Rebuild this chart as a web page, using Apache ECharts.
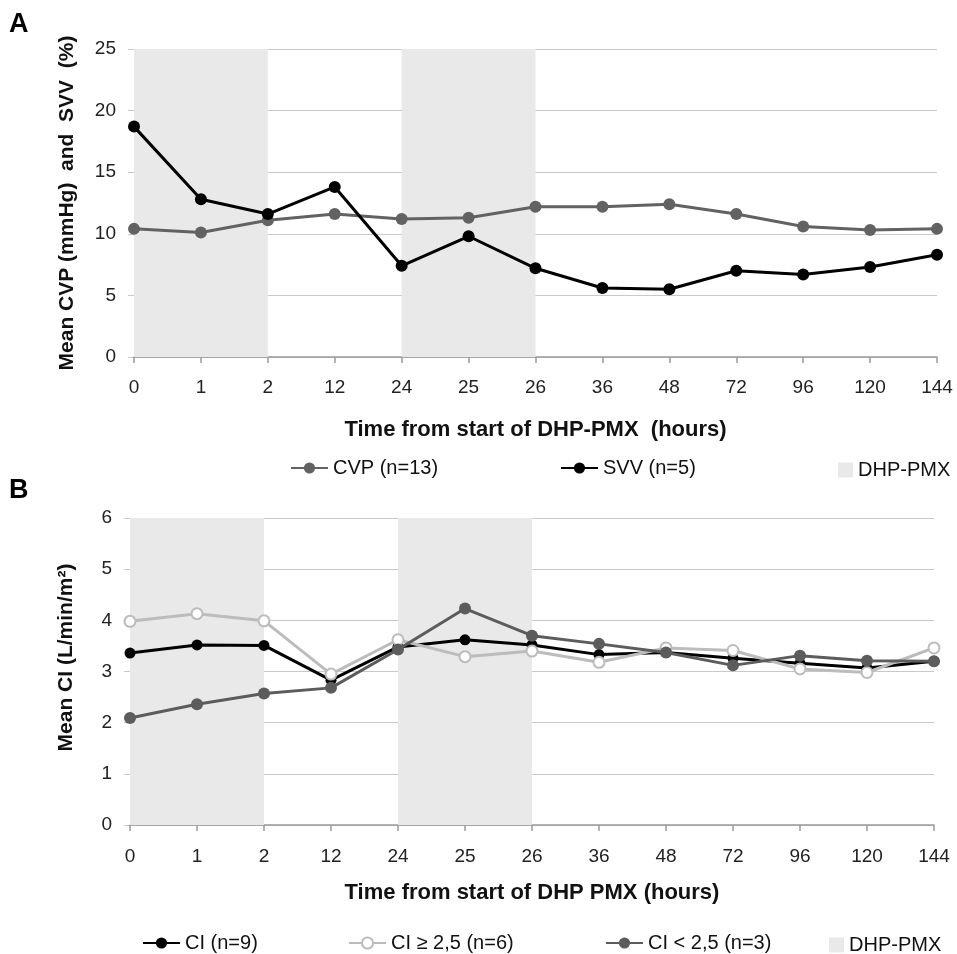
<!DOCTYPE html>
<html>
<head>
<meta charset="utf-8">
<script src="https://cdn.jsdelivr.net/npm/echarts@6/dist/echarts.min.js"></script>
<style>
html,body{margin:0;padding:0;background:#fff;}
#chart{width:957px;height:954px;}
</style>
</head>
<body>
<div id="chart"></div>
<script>
// ---- data ----
const categories = ['0','1','2','12','24','25','26','36','48','72','96','120','144'];
const cvp  = [10.4, 10.1, 11.1, 11.6, 11.2, 11.3, 12.2, 12.2, 12.4, 11.6, 10.6, 10.3, 10.4];
const svv  = [18.7, 12.8, 11.6, 13.8, 7.4, 9.8, 7.2, 5.6, 5.5, 7.0, 6.7, 7.3, 8.3];
const ci     = [3.36, 3.52, 3.51, 2.83, 3.48, 3.62, 3.52, 3.33, 3.37, 3.26, 3.16, 3.07, 3.2];
const ciHigh = [3.98, 4.13, 3.99, 2.95, 3.62, 3.29, 3.40, 3.18, 3.46, 3.41, 3.05, 2.98, 3.46];
const ciLow  = [2.09, 2.36, 2.57, 2.68, 3.43, 4.23, 3.70, 3.54, 3.37, 3.12, 3.31, 3.21, 3.2];
const dhpPeriods = [['0','2'], ['24','26']];
const topTitleX = 'Time from start of DHP-PMX  (hours)';
const botTitleX = 'Time from start of DHP PMX (hours)';
const topTitleY = 'Mean CVP (mmHg)  and  SVV  (%)';
const botTitleY = 'Mean CI (L/min/m²)';

const FONT = 'Liberation Sans, Arial, sans-serif';
const shade = '#e9e9e9';
const gridLine = '#c9c9c9';

function xAxisCfg(gridIndex, name, nameGap, margin) {
  return {
    type: 'category', gridIndex, data: categories, boundaryGap: false,
    name, nameLocation: 'middle', nameGap,
    nameTextStyle: { fontFamily: FONT, fontWeight: 'bold', fontSize: 22, color: '#111' },
    axisLine: { lineStyle: { color: '#9a9a9a', width: 1.5 } },
    axisTick: { show: true, length: 6, lineStyle: { color: '#9a9a9a', width: 1.5 } },
    axisLabel: { fontFamily: FONT, fontSize: 19, color: '#222', margin },
    splitLine: { show: false }
  };
}
function yAxisCfg(gridIndex, name, max, interval, nameGap, pad) {
  return {
    type: 'value', gridIndex, min: 0, max, interval,
    name, nameLocation: 'middle', nameGap,
    nameTextStyle: { fontFamily: FONT, fontWeight: 'bold', fontSize: 21, color: '#111', padding: pad },
    axisLine: { show: false },
    axisTick: { show: true, length: 6, lineStyle: { color: gridLine } },
    axisLabel: { fontFamily: FONT, fontSize: 19, color: '#222', margin: 18 },
    splitLine: { lineStyle: { color: gridLine, width: 1.2 } }
  };
}
function areaData() {
  return dhpPeriods.map(p => [{ xAxis: p[0] }, { xAxis: p[1] }]);
}
function lineSeries(name, data, xi, color, opts) {
  opts = opts || {};
  return {
    type: 'line', name, data, xAxisIndex: xi, yAxisIndex: xi,
    symbol: opts.empty ? 'emptyCircle' : 'circle',
    symbolSize: opts.size || 12,
    lineStyle: { color, width: 3 },
    itemStyle: opts.empty ? { color, borderColor: color, borderWidth: 2 } : { color },
    z: opts.z || 3, animation: false
  };
}
function legendCfg(name, left, top, icon, w, h) {
  const l = {
    data: [name], left, top, itemWidth: w || 37, itemHeight: h || 14, itemGap: 0,
    padding: 0, selectedMode: false,
    textStyle: { fontFamily: FONT, fontSize: 20, color: '#111' }
  };
  if (icon) l.icon = icon;
  return l;
}

const chart = echarts.init(document.getElementById('chart'), null, { renderer: 'canvas' });
chart.setOption({
  backgroundColor: '#fff',
  animation: false,
  grid: [
    { left: 134, right: 20, top: 49, height: 308 },
    { left: 130, right: 23, top: 518, height: 307 }
  ],
  xAxis: [xAxisCfg(0, topTitleX, 62, 21), xAxisCfg(1, botTitleX, 57, 22)],
  yAxis: [yAxisCfg(0, topTitleY, 25, 5, 56, 0), yAxisCfg(1, botTitleY, 6, 1, 53, [0, 0, 0, 28])],
  legend: [
    legendCfg('CVP (n=13)', 290, 458),
    legendCfg('SVV (n=5)', 560, 458),
    legendCfg('DHP-PMX', 838, 460, 'rect', 15, 15),
    legendCfg('CI (n=9)', 142, 933),
    legendCfg('CI ≥ 2,5 (n=6)', 348, 933),
    legendCfg('CI < 2,5 (n=3)', 605, 933),
    legendCfg('DHP-PMX ', 829, 935, 'rect', 15, 15)
  ],
  graphic: [
    { type: 'text', left: 9, top: 11, style: { text: 'A', font: 'bold 27px ' + FONT, fill: '#000' } },
    { type: 'text', left: 9, top: 477, style: { text: 'B', font: 'bold 27px ' + FONT, fill: '#000' } }
  ],
  series: [
    { type: 'line', name: 'DHP-PMX', data: [], xAxisIndex: 0, yAxisIndex: 0,
      itemStyle: { color: shade }, lineStyle: { color: shade }, z: 1,
      markArea: { silent: true, itemStyle: { color: shade }, data: areaData() } },
    lineSeries('CVP (n=13)', cvp, 0, '#626262'),
    lineSeries('SVV (n=5)', svv, 0, '#000000', { z: 4 }),
    { type: 'line', name: 'DHP-PMX ', data: [], xAxisIndex: 1, yAxisIndex: 1,
      itemStyle: { color: shade }, lineStyle: { color: shade }, z: 1,
      markArea: { silent: true, itemStyle: { color: shade }, data: areaData() } },
    lineSeries('CI (n=9)', ci, 1, '#000000', { size: 11, z: 3 }),
    lineSeries('CI ≥ 2,5 (n=6)', ciHigh, 1, '#bcbcbc', { size: 11, empty: true, z: 4 }),
    lineSeries('CI < 2,5 (n=3)', ciLow, 1, '#5c5c5c', { size: 12, z: 5 })
  ]
});
</script>
</body>
</html>
